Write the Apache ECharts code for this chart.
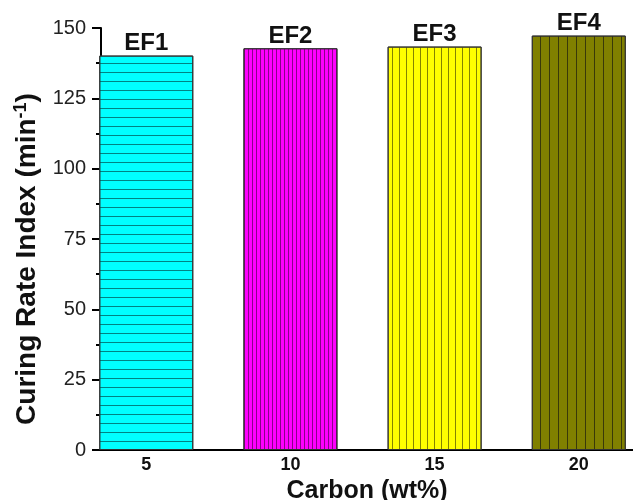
<!DOCTYPE html>
<html>
<head>
<meta charset="utf-8">
<script src="https://cdn.jsdelivr.net/npm/echarts@6/dist/echarts.min.js"></script>
<style>
  html, body { margin: 0; padding: 0; background: #fff; }
  #chart { width: 633px; height: 500px; }
</style>
</head>
<body>
<div id="chart"></div>
<script>
// Carbon loading (wt%) and the measured curing rate index for each compound
const carbonContent = [5, 10, 15, 20];
const curingRateIndex = [140.2, 142.8, 143.4, 147.3];
const sampleNames = ['EF1', 'EF2', 'EF3', 'EF4'];
const yTickValues = [0, 25, 50, 75, 100, 125, 150];

// Fill colour and hatch line style for each bar
const barFills = ['#00ffff', '#ff00ff', '#ffff00', '#808000'];
const hatchColors = ['rgba(0,90,90,0.75)', 'rgba(110,0,110,0.8)', 'rgba(110,110,0,0.85)', 'rgba(45,45,10,0.85)'];
const hatchGaps = [7.5, 2.5, 6, 7.5];
const hatchVertical = [false, true, true, true];

const FONT = '"Liberation Sans", Arial, sans-serif';

const chart = echarts.init(document.getElementById('chart'), null, { renderer: 'canvas' });

const barData = carbonContent.map((c, i) => ({
  value: [c, curingRateIndex[i]],
  name: sampleNames[i],
  itemStyle: {
    color: barFills[i],
    borderColor: '#333',
    borderWidth: 1,
    decal: {
      symbol: 'rect',
      symbolSize: 1,
      color: hatchColors[i],
      dashArrayX: hatchVertical[i] ? [1, hatchGaps[i]] : [20, 0],
      dashArrayY: hatchVertical[i] ? [20, 0] : [1, hatchGaps[i]],
      rotation: 0
    }
  }
}));

chart.setOption({
  animation: false,
  backgroundColor: '#fff',
  grid: { left: 101, right: 0, top: 28, bottom: 50, containLabel: false, outerBoundsMode: 'none' },
  xAxis: {
    type: 'value',
    min: 3.43,
    max: 21.88,
    name: 'Carbon (wt%)',
    nameLocation: 'middle',
    nameGap: 22,
    nameTextStyle: { fontFamily: FONT, fontWeight: 'bold', fontSize: 25, color: '#111' },
    axisLine: { show: true, onZero: false, lineStyle: { color: '#000', width: 2 } },
    axisTick: { show: false },
    splitLine: { show: false },
    axisLabel: {
      customValues: carbonContent,
      margin: 6,
      fontFamily: FONT,
      fontWeight: 'bold',
      fontSize: 18,
      color: '#111'
    }
  },
  yAxis: {
    type: 'value',
    min: 0,
    max: 150,
    interval: 25,
    name: '{t|Curing Rate Index (min}{s|-1}{t|)}',
    nameLocation: 'middle',
    nameGap: 46,
    nameRotate: 90,
    nameTextStyle: {
      // extra right padding nudges the rotated title down along the axis
      padding: [0, 40, 0, 0],
      rich: {
        t: { fontFamily: FONT, fontWeight: 'bold', fontSize: 28, color: '#111' },
        s: { fontFamily: FONT, fontWeight: 'bold', fontSize: 18, color: '#111', verticalAlign: 'top', padding: [0, 0, 13, 0] }
      }
    },
    axisLine: { show: true, lineStyle: { color: '#000', width: 2 } },
    axisTick: { show: true, length: 9, lineStyle: { color: '#000', width: 2 } },
    minorTick: { show: true, splitNumber: 2, length: 5, lineStyle: { color: '#000', width: 2 } },
    splitLine: { show: false },
    axisLabel: {
      margin: 15,
      fontFamily: FONT,
      fontSize: 20,
      color: '#222',
      formatter: v => (yTickValues.indexOf(v) >= 0 ? String(v) : '')
    }
  },
  series: [{
    type: 'bar',
    data: barData,
    barWidth: 94,
    label: {
      show: true,
      position: 'top',
      distance: 0,
      formatter: p => p.name,
      fontFamily: FONT,
      fontWeight: 'bold',
      fontSize: 24,
      color: '#111'
    }
  }]
});
</script>
</body>
</html>
